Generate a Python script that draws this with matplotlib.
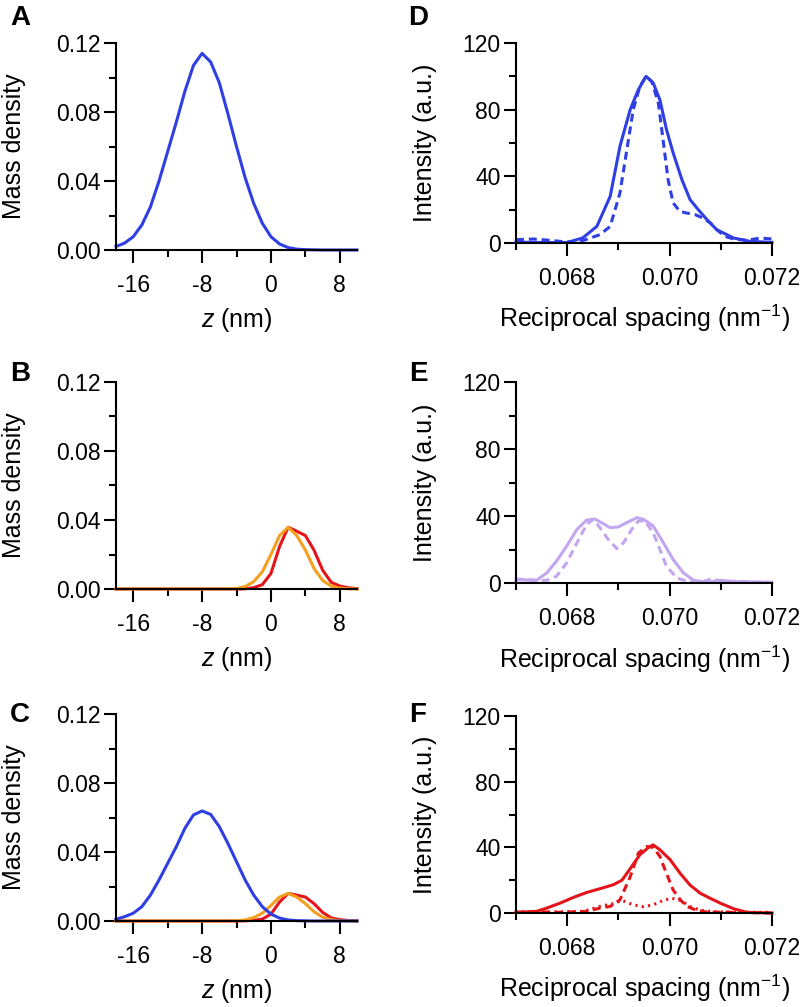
import matplotlib
matplotlib.use("Agg")
import matplotlib.pyplot as plt
from matplotlib.ticker import MultipleLocator, FormatStrFormatter

plt.rcParams['font.family'] = ['Liberation Sans', 'DejaVu Sans']
plt.rcParams['mathtext.fontset'] = 'custom'
plt.rcParams['mathtext.rm'] = 'Liberation Sans'
plt.rcParams['mathtext.it'] = 'Liberation Sans:italic'
plt.rcParams['axes.unicode_minus'] = False

BLUE = '#2F3FE4'
RED = '#E5141B'
ORANGE = '#F59F1E'
LAV = '#C2A6F0'

# ---------------- data: mass density panels ----------------
z = list(range(-18, 11))

a_blue = [0.002, 0.004, 0.0077, 0.0145, 0.025, 0.040, 0.057, 0.074, 0.092, 0.107,
          0.114, 0.109, 0.097, 0.079, 0.060, 0.042, 0.027, 0.0155, 0.0077, 0.0035,
          0.0014, 0.0005, 0.0002, 0.0001, 0, 0, 0, 0, 0]

b_orange = [0, 0, 0, 0, 0, 0, 0, 0, 0, 0, 0, 0, 0, 0.0001, 0.0003, 0.0014, 0.0043,
            0.010, 0.020, 0.031, 0.0358, 0.031, 0.0226, 0.012, 0.005, 0.0017, 0.0005,
            0.0001, 0]
b_red = [0, 0, 0, 0, 0, 0, 0, 0, 0, 0, 0, 0, 0, 0, 0, 0.0001, 0.0008, 0.0025, 0.009,
         0.0246, 0.0358, 0.0335, 0.031, 0.0226, 0.011, 0.0039, 0.0017, 0.0007, 0.0002]

c_blue = [0.001, 0.0025, 0.0045, 0.0083, 0.015, 0.0238, 0.0334, 0.043, 0.0537, 0.0615,
          0.0638, 0.0618, 0.0547, 0.045, 0.0344, 0.0238, 0.015, 0.0083, 0.004, 0.0017,
          0.0006, 0.0002, 0.0001, 0, 0, 0, 0, 0, 0]
c_orange = [0, 0, 0, 0, 0, 0, 0, 0, 0, 0, 0, 0, 0, 0, 0.0002, 0.0006, 0.002, 0.0045,
            0.009, 0.0139, 0.016, 0.0139, 0.0101, 0.0054, 0.0022, 0.0008, 0.0002,
            0.0001, 0]
c_red = [0, 0, 0, 0, 0, 0, 0, 0, 0, 0, 0, 0, 0, 0, 0, 0.0001, 0.0004, 0.0011, 0.004,
         0.011, 0.016, 0.015, 0.0139, 0.0101, 0.005, 0.0018, 0.0008, 0.0003, 0.0001]

# ---------------- data: intensity panels ----------------
d_solid_x = [0.0670, 0.0675, 0.0680, 0.06830, 0.06858, 0.06884, 0.06903, 0.06923,
             0.06939, 0.06954, 0.06968, 0.06981, 0.06994, 0.07007, 0.07024, 0.07040,
             0.07056, 0.07073, 0.07092, 0.07125, 0.07157, 0.0720]
d_solid_y = [0.5, 0.3, 0.3, 3, 10, 28, 58, 80, 92, 100, 96, 86, 68, 54, 38, 26,
             20, 14, 8, 3, 1, 0.4]
d_dash_x = [0.06700, 0.06734, 0.06766, 0.06799, 0.06832, 0.06864, 0.06884, 0.06903,
            0.06916, 0.06929, 0.06942, 0.06954, 0.06965, 0.06978, 0.06988, 0.06997,
            0.07007, 0.07020, 0.07033, 0.07050, 0.07065, 0.07080, 0.07092, 0.07108,
            0.07125, 0.07151, 0.07177, 0.07200]
d_dash_y = [2, 2.4, 1.6, 0.6, 1.6, 5, 10, 30, 55, 80, 94, 100, 97, 84, 60, 38,
            24, 19, 18, 17, 15, 12, 8, 4, 2.4, 1.6, 3, 2.4]

e_solid_x = [0.06700, 0.06740, 0.06760, 0.06779, 0.06799, 0.06819, 0.06838, 0.06854,
             0.06867, 0.06884, 0.06900, 0.06916, 0.06936, 0.06949, 0.06968, 0.06988,
             0.07007, 0.07027, 0.07047, 0.07073, 0.07099, 0.07125, 0.07200]
e_solid_y = [2, 1.6, 6, 13, 22, 32, 37.5, 38.2, 36, 33, 33.5, 36, 39, 38, 34, 24,
             14, 6, 1.6, 0.4, 1.6, 0.8, 0.4]
e_dash_x = [0.06700, 0.06740, 0.06760, 0.06779, 0.06799, 0.06819, 0.06838, 0.06851,
            0.06864, 0.06880, 0.06897, 0.06910, 0.06926, 0.06939, 0.06952, 0.06968,
            0.06981, 0.06994, 0.07014, 0.07034, 0.07060, 0.07082, 0.07105, 0.07131,
            0.07164, 0.07200]
e_dash_y = [2.4, 1.6, 1.6, 4, 12, 24, 35, 38, 33, 26, 20.5, 24, 32, 37, 37, 30,
            20, 10, 3, 1, 0.4, 2.4, 1, 1, 0.6, 0.4]

f_solid_x = [0.06700, 0.06740, 0.06760, 0.06786, 0.06812, 0.06838, 0.06864, 0.06890,
             0.06907, 0.06923, 0.06942, 0.06959, 0.06968, 0.06981, 0.07001, 0.07021,
             0.07040, 0.07060, 0.07079, 0.07099, 0.07125, 0.07151, 0.07200]
f_solid_y = [0.4, 1, 3, 6, 9.5, 12.5, 14.8, 17.2, 20, 27, 35.5, 40, 41.5, 38.5,
             32.5, 24, 17, 12, 9, 6, 2.6, 0.4, 0]
f_dash_x = [0.06700, 0.06740, 0.06786, 0.06838, 0.06864, 0.06884, 0.06903, 0.06923,
            0.06939, 0.06955, 0.06968, 0.06981, 0.06994, 0.07007, 0.07021, 0.07034,
            0.07053, 0.07073, 0.07125, 0.07200]
f_dash_y = [0.4, 0.8, 0.4, 1, 3, 4, 8, 22, 36.5, 40.5, 40, 34.5, 24, 14, 8, 4,
            1.6, 0.6, 0.4, 0]
f_dot_x = [0.06700, 0.06766, 0.06832, 0.06864, 0.06890, 0.06907, 0.06929, 0.06949,
           0.06968, 0.06988, 0.07004, 0.07021, 0.07040, 0.07060, 0.07092, 0.07200]
f_dot_y = [0.6, 0.6, 1, 4, 5.7, 7.7, 5, 3.8, 5, 7.7, 9, 7.7, 4, 1.6, 0.6, 0.4]

# ---------------- figure ----------------
W, H = 802, 1007
fig = plt.figure(figsize=(W / 100, H / 100), dpi=100)


def px_axes(x0, x1, ytop, ybot):
    return fig.add_axes([x0 / W, 1 - ybot / H, (x1 - x0) / W, (ybot - ytop) / H])


LW = 2.2
DASH = (0, (2.6, 1.6))
DOT = (0, (0.7, 1.4))


def style(ax):
    for s in ('top', 'right'):
        ax.spines[s].set_visible(False)
    for s in ('left', 'bottom'):
        ax.spines[s].set_linewidth(1.5)
    ax.tick_params(which='major', direction='out', length=9, width=1.5,
                   labelsize=16.5)
    ax.tick_params(which='minor', direction='out', length=5, width=1.5)
    ax.tick_params(axis='x', which='major', pad=8)
    ax.tick_params(axis='y', which='major', pad=2)


def density_axes(ax, label):
    style(ax)
    ax.set_xlim(-18, 10)
    ax.set_ylim(0, 0.12)
    ax.set_xticks([-16, -8, 0, 8])
    ax.set_xticks([-12, -4, 4], minor=True)
    ax.yaxis.set_major_locator(MultipleLocator(0.04))
    ax.yaxis.set_minor_locator(MultipleLocator(0.02))
    ax.yaxis.set_major_formatter(FormatStrFormatter('%.2f'))
    ax.set_xlabel('$z$ (nm)', fontsize=18)
    ax.set_ylabel('Mass density', fontsize=18)
    ax.xaxis.set_label_coords(0.5, -0.27)
    ax.yaxis.set_label_coords(-0.375, 0.5)
    fig.text(20 / W, 1 - label[1] / H, label[0], fontsize=20, fontweight='bold',
             ha='center', va='center')


def intensity_axes(ax, label):
    style(ax)
    ax.set_xlim(0.067, 0.072)
    ax.set_ylim(0, 120)
    ax.set_xticks([0.068, 0.070, 0.072])
    ax.set_xticks([0.067, 0.069, 0.071], minor=True)
    ax.xaxis.set_major_formatter(FormatStrFormatter('%.3f'))
    ax.yaxis.set_major_locator(MultipleLocator(40))
    ax.yaxis.set_minor_locator(MultipleLocator(20))
    ax.set_xlabel('Reciprocal spacing (nm$^{-1}$)', fontsize=18)
    ax.set_ylabel('Intensity (a.u.)', fontsize=18)
    ax.xaxis.set_label_coords(0.5, -0.30)
    ax.yaxis.set_label_coords(-0.31, 0.5)
    fig.text(418 / W, 1 - label[1] / H, label[0], fontsize=20, fontweight='bold',
             ha='center', va='center')


# Panel A
axA = px_axes(116, 357, 43, 250)
axA.plot(z, a_blue, color=BLUE, lw=LW, clip_on=False)
density_axes(axA, ('A', 18))

# Panel B
axB = px_axes(116, 357, 382, 589)
axB.plot(z, b_red, color=RED, lw=LW, clip_on=False)
axB.plot(z, b_orange, color=ORANGE, lw=LW, clip_on=False)
density_axes(axB, ('B', 374))

# Panel C
axC = px_axes(116, 357, 714, 921)
axC.plot(z, c_red, color=RED, lw=LW, clip_on=False)
axC.plot(z, c_orange, color=ORANGE, lw=LW, clip_on=False)
axC.plot(z, c_blue, color=BLUE, lw=LW, clip_on=False)
density_axes(axC, ('C', 715))

# Panel D
axD = px_axes(516, 772, 43, 243)
axD.plot(d_solid_x, d_solid_y, color=BLUE, lw=LW, clip_on=False)
axD.plot(d_dash_x, d_dash_y, color=BLUE, lw=LW, ls=DASH, clip_on=False)
intensity_axes(axD, ('D', 18))

# Panel E
axE = px_axes(516, 772, 382, 583)
axE.plot(e_solid_x, e_solid_y, color=LAV, lw=LW, clip_on=False)
axE.plot(e_dash_x, e_dash_y, color=LAV, lw=LW, ls=DASH, clip_on=False)
intensity_axes(axE, ('E', 374))

# Panel F
axF = px_axes(516, 772, 716, 913)
axF.plot(f_solid_x, f_solid_y, color=RED, lw=LW, clip_on=False)
axF.plot(f_dash_x, f_dash_y, color=RED, lw=LW, ls=DASH, clip_on=False)
axF.plot(f_dot_x, f_dot_y, color=RED, lw=LW, ls=DOT, clip_on=False)
intensity_axes(axF, ('F', 715))

fig.savefig('out.png', dpi=100)
